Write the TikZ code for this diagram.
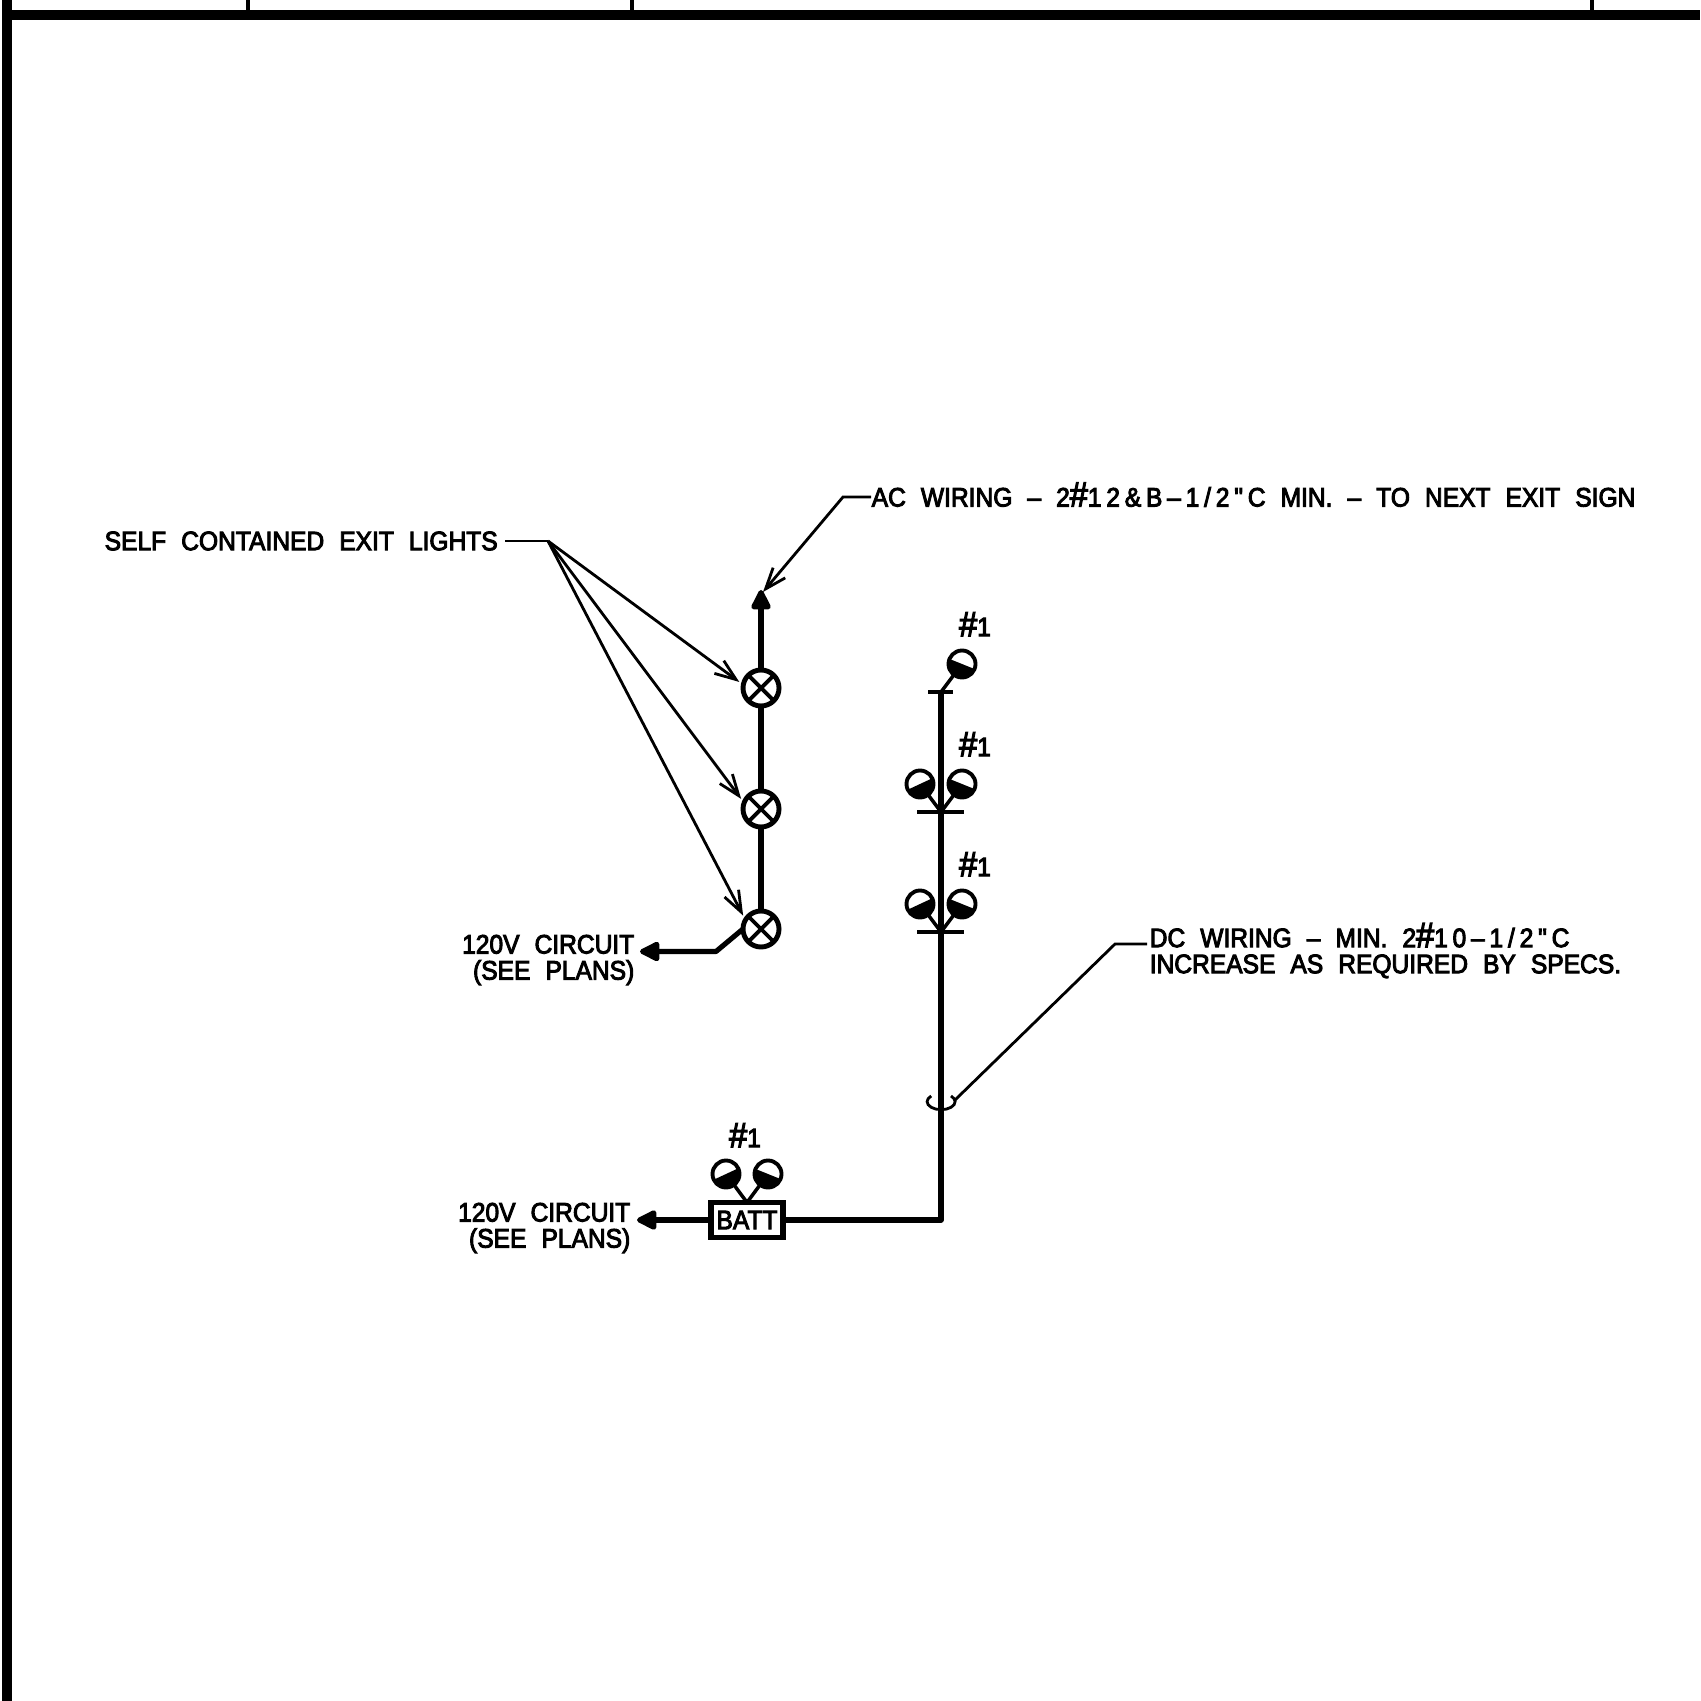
\documentclass[tikz,border=0pt]{standalone}
\usepackage{fontspec}
\usepackage{tikz}
\usetikzlibrary{arrows.meta}
\newfontfamily\cadfont[FakeBold=3.5,FakeStretch=0.92,WordSpace=2.2]{Liberation Sans}
\newfontfamily\cadnum[FakeBold=3.5,FakeStretch=0.92,WordSpace=2.2,LetterSpace=18]{Liberation Sans}
\newcommand{\hashmark}{\smash{\fontsize{10}{7.4}\selectfont\#}}
\tikzset{
    wire/.style={line width=1.45pt, line join=round},
    branch/.style={line width=1pt},
    leader/.style={line width=0.8pt},
    leadarrow/.style={leader, -{Straight Barb[length=6pt,width=4.5pt]}},
    wirearrow/.style={wire, -{Triangle[length=6.5pt,width=6pt,round]}},
    frameline/.style={line width=2.7pt},
    exitlight/.style={circle, draw, line width=1.4pt, minimum size=0.36cm, inner sep=0pt, outer sep=0pt,
        path picture={\draw[line width=1.1pt, shift={(path picture bounding box.center)}] (-8pt,-8pt) -- (8pt,8pt) (-8pt,8pt) -- (8pt,-8pt);}},
    lamp/.style={circle, draw, line width=1.1pt, minimum size=0.27cm, inner sep=0pt, outer sep=0pt,
        path picture={\fill[shift={(path picture bounding box.center)}] (#1:16pt) -- (#1+180:16pt) -- (#1+270:16pt) -- cycle;}},
    textlabel/.style={font=\cadfont\fontsize{7.6}{7.4}\selectfont, inner sep=0pt},
}
\begin{document}
\begin{tikzpicture}[x=0.01cm, y=-0.01cm]
    \useasboundingbox (0, 0) rectangle (1700, 1701);
    % title block edge
    \draw[frameline] (7, 0) -- (7, 1701);
    \draw[frameline] (7, 15) -- (1700, 15);
    \foreach \x in {248, 632, 1592}
        \draw[line width=1.3pt] (\x, 0) -- (\x, 15);

    % exit lights and AC wire
    \node[exitlight] (exitA) at (761, 688) {};
    \node[exitlight] (exitB) at (761, 809) {};
    \node[exitlight] (exitC) at (761, 929) {};
    \coordinate (acend) at (761, 590);
    \draw[wire] (exitC) -- (exitB);
    \draw[wire] (exitB) -- (exitA);
    \draw[wirearrow] (exitA) -- (acend);
    \coordinate (ccbend) at (716, 951.5);
    \coordinate (ccend) at (640, 951.5);
    \draw[wirearrow] (exitC.180) -- (ccbend) -- (ccend);

    % labels for the exit lights
    \node[textlabel, anchor=west] (selflabel) at (104, 541) {SELF CONTAINED EXIT LIGHTS};
    \coordinate (selfstart) at (505, 541);
    \coordinate (selfjoin) at (548, 541);
    \draw[leader] (selfstart) -- (selfjoin);
    \draw[leadarrow, shorten >=1.4pt] (selfjoin) -- (exitA.170);
    \draw[leadarrow, shorten >=1.4pt] (selfjoin) -- (exitB.160);
    \draw[leadarrow, shorten >=1.4pt] (selfjoin) -- (exitC.150);
    \node[textlabel, anchor=west] (aclabel) at (871, 497) {AC WIRING – {\cadnum 2\hashmark 12\&B–1/2"C} MIN. – TO NEXT EXIT SIGN};
    \coordinate (acjoin) at (843, 497);
    \coordinate (actip) at (763, 592);
    \draw[leadarrow] (aclabel.west) -- (acjoin) -- (actip);
    \node[textlabel, anchor=east, align=right] (ccircuit) at (635, 960) {120V CIRCUIT\\(SEE PLANS)};

    % DC wire and remote heads
    \coordinate (dctop) at (941, 692);
    \coordinate (dcmid) at (941, 812);
    \coordinate (dclow) at (941, 932);
    \coordinate (dccorner) at (941, 1220);
    \draw[branch] (928, 692) -- (953, 692);
    \draw[branch] (917, 812) -- (964, 812);
    \draw[branch] (917, 932) -- (964, 932);
    \node[lamp=-22] (lampA) at (962, 664) {};
    \node[lamp=25] (lampB) at (920, 784) {};
    \node[lamp=-22] (lampC) at (962, 784) {};
    \node[lamp=25] (lampD) at (920, 904) {};
    \node[lamp=-22] (lampE) at (962, 904) {};
    \draw[branch] (dctop) -- (lampA);
    \draw[branch] (dcmid) -- (lampB);
    \draw[branch] (dcmid) -- (lampC);
    \draw[branch] (dclow) -- (lampD);
    \draw[branch] (dclow) -- (lampE);
    \node[textlabel] (numA) at (975, 627) {\hashmark 1};
    \node[textlabel] (numB) at (975, 747) {\hashmark 1};
    \node[textlabel] (numC) at (975, 867) {\hashmark 1};

    % battery unit
    \node[draw, line width=1.6pt, minimum width=0.72cm, minimum height=0.35cm, textlabel, inner sep=0pt, outer sep=0pt] (batt) at (747, 1220) {BATT};
    \draw[wire] (dctop) -- (dccorner) -- (batt);
    \coordinate (battend) at (637, 1220);
    \draw[wirearrow] (batt) -- (battend);
    \node[lamp=25] (lampF) at (726, 1174) {};
    \node[lamp=-22] (lampG) at (768, 1174) {};
    \draw[branch] (batt.north) -- (lampF);
    \draw[branch] (batt.north) -- (lampG);
    \node[textlabel] (numD) at (745, 1138) {\hashmark 1};
    \node[textlabel, anchor=east, align=right] (bcircuit) at (631, 1228) {120V CIRCUIT\\(SEE PLANS)};

    % DC wiring label
    \node[textlabel, anchor=west, align=left] (dclabel) at (1149, 953) {DC WIRING – MIN. {\cadnum 2\hashmark 10–1/2"C}\\INCREASE AS REQUIRED BY SPECS.};
    \coordinate (dcjoin) at (1147, 944);
    \coordinate (dcbend) at (1115, 944);
    \coordinate (dcloop) at (955, 1100);
    \coordinate (loopstart) at (951, 1096);
    \draw[leader] (dcjoin) -- (dcbend) -- (dcloop);
    \draw[leader] (loopstart) arc[start angle=-45, end angle=225, x radius=14, y radius=8];
\end{tikzpicture}
\end{document}
